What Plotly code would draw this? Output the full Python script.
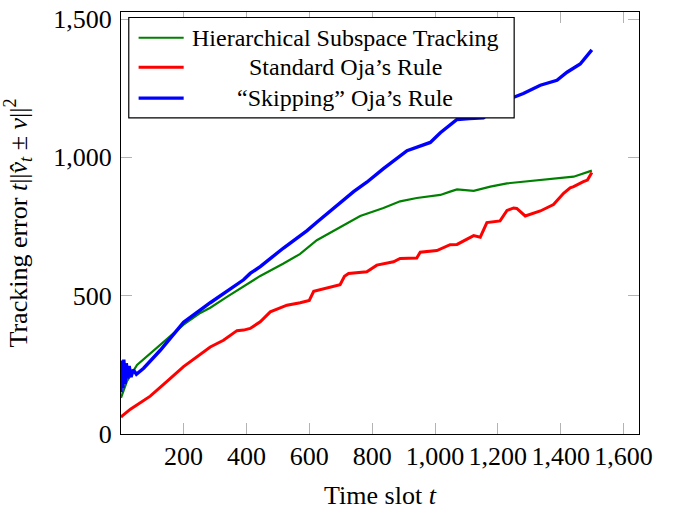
import plotly.graph_objects as go

# ---- data ----
green_t = [1, 7, 20, 52, 94, 150, 200, 250, 285, 338, 391, 444, 518, 570, 624, 677,
           730, 762, 836, 889, 942, 995, 1017, 1048, 1070, 1123, 1176, 1229, 1281,
           1335, 1388, 1441, 1499]
green_v = [130, 148, 190, 249, 290, 345, 395, 435, 456, 495, 533, 571, 616, 650, 700, 735,
           770, 788, 817, 841, 853, 861, 864, 876, 884, 879, 894, 906, 912,
           917, 923, 930, 952]

red_t = [1, 5, 31, 94, 150, 200, 285, 327, 370, 391, 412, 444, 476, 529, 571, 600, 614,
         698, 712, 725, 783, 815, 868, 889, 942, 953, 1006, 1048, 1070, 1123, 1144,
         1165, 1207, 1229, 1250, 1260, 1287, 1335, 1377, 1409, 1430, 1441, 1472,
         1485, 1499]
red_v = [60, 65, 89, 136, 192, 243, 314, 338, 373, 375, 381, 405, 441, 465, 474, 482, 515,
         539, 570, 580, 586, 610, 622, 634, 636, 657, 663, 684, 685, 717, 711,
         764, 770, 808, 817, 815, 788, 806, 829, 870, 890, 894, 912,
         918, 945]

blue_t = [1, 4, 7, 10, 14, 18, 22, 27, 33, 40, 50, 73, 126, 200, 285, 391, 412, 444,
          518, 593, 624, 677, 730, 741, 783, 836, 911, 985, 1017, 1048, 1070, 1110,
          1154, 1229, 1281, 1335, 1388, 1420, 1462, 1499]
blue_v = [150, 265, 165, 268, 180, 255, 200, 245, 205, 232, 215, 237, 302, 403, 474, 557,
          580, 605, 672, 735, 765, 815, 864, 876, 910, 959, 1024, 1054, 1089, 1119,
          1137, 1140, 1143, 1208, 1231, 1261, 1279, 1308, 1338, 1389]

series_names = ["Hierarchical Subspace Tracking", "Standard Oja’s Rule", "“Skipping” Oja’s Rule"]
series_colors = ["#008000", "#ff0000", "#0000ff"]
series_widths = [2.2, 3, 3.4]

x_ticks = [200, 400, 600, 800, 1000, 1200, 1400, 1600]
y_ticks = [0, 500, 1000, 1500]

FONT = "Liberation Serif"

fig = go.Figure()
for t, v, name, color, w in zip([green_t, red_t, blue_t], [green_v, red_v, blue_v],
                                series_names, series_colors, series_widths):
    fig.add_trace(go.Scatter(x=t, y=v, mode="lines", name=name,
                             line=dict(color=color, width=w), showlegend=False))

axis_common = dict(showline=True, linecolor="black", linewidth=1.2, mirror="allticks",
                   ticks="inside", ticklen=11, tickwidth=1.3, tickcolor="#b3b3b3",
                   showgrid=False, zeroline=False, tickformat=",d",
                   ticklabeloverflow="allow",
                   tickfont=dict(family=FONT, size=26, color="black"))

fig.update_xaxes(range=[1, 1649], tickvals=x_ticks, ticklabelstandoff=-1,
                 title=dict(text="Time slot <i>t</i>", font=dict(family=FONT, size=26, color="black"),
                            standoff=16),
                 **axis_common)
fig.update_yaxes(range=[-1, 1526], tickvals=y_ticks, ticklabelstandoff=3,
                 title=dict(text="Tracking error <i>t</i>||<i>v̂<sub>t</sub></i> ± <i>v</i>||<sup>2</sup>",
                            font=dict(family=FONT, size=26, color="black"), standoff=20),
                 **axis_common)

# legend box drawn manually (centered entries, like the reference)
shapes = [dict(type="rect", xref="paper", yref="paper", x0=0.015, x1=0.759, y0=0.749, y1=0.987,
               line=dict(color="black", width=1.2), fillcolor="white", layer="above")]
annotations = []
rows_y = [0.939, 0.869, 0.796]
for name, color, w, yy in zip(series_names, series_colors, series_widths, rows_y):
    shapes.append(dict(type="line", xref="paper", yref="paper", x0=0.034, x1=0.121, y0=yy, y1=yy,
                       line=dict(color=color, width=w), layer="above"))
    annotations.append(dict(text=name, xref="paper", yref="paper", x=0.4327, y=yy,
                            xanchor="center", yanchor="middle", showarrow=False,
                            font=dict(family=FONT, size=24, color="black")))

fig.update_layout(width=677, height=510, margin=dict(l=121, r=38, t=5, b=75),
                  paper_bgcolor="white", plot_bgcolor="white",
                  shapes=shapes, annotations=annotations,
                  font=dict(family=FONT, color="black"))

fig.write_html("out.html", config={"displayModeBar": False},
               post_script="document.body.style.margin='0';")
